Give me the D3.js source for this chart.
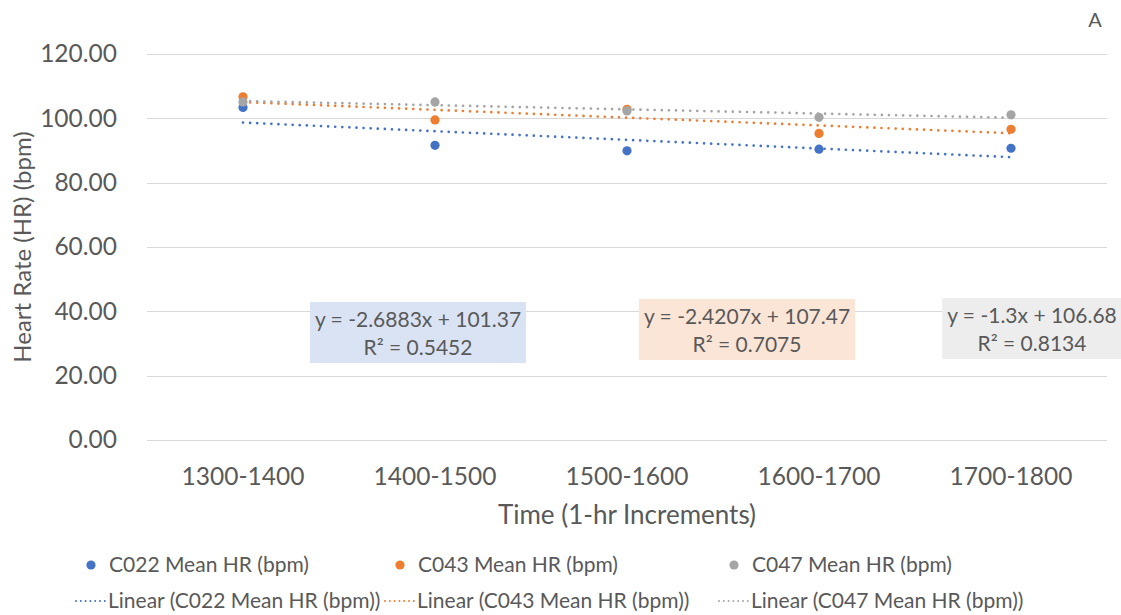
<!DOCTYPE html>
<html>
<head>
<meta charset="utf-8">
<script src="https://cdn.jsdelivr.net/npm/d3@7"></script>
<style>
  body { margin: 0; background: #fff; }
  text { font-family: Lato, "Open Sans", sans-serif; fill: #595959; }
</style>
</head>
<body>
<div id="chart"></div>
<script>
// data
var categories = ["1300-1400", "1400-1500", "1500-1600", "1600-1700", "1700-1800"];
var seriesNames = ["C022 Mean HR (bpm)", "C043 Mean HR (bpm)", "C047 Mean HR (bpm)"];
var c022 = [103.4, 91.6, 89.9, 90.4, 90.7];
var c043 = [106.7, 99.5, 102.8, 95.3, 96.6];
var c047 = [105.1, 105.1, 102.3, 100.3, 101.1];
// trendline equations shown on the chart
var slopes = [-2.6883, -2.4207, -1.3];
var intercepts = [101.37, 107.47, 106.68];
var rSquared = ["0.5452", "0.7075", "0.8134"];
var yTicks = [0, 20, 40, 60, 80, 100, 120];

var colors = ["#4472C4", "#ED7D31", "#A5A5A5"];
var boxFills = ["#DAE3F3", "#FBE5D6", "#EDEDED"];

var W = 1121, H = 615;
var margin = {top: 54, right: 14, bottom: 175, left: 147},
    width = W - margin.left - margin.right,
    height = H - margin.top - margin.bottom;

var svg = d3.select("#chart")
  .append("svg")
    .attr("width", W)
    .attr("height", H);

var g = svg.append("g")
    .attr("transform", "translate(" + margin.left + "," + margin.top + ")");

// scales
var x = d3.scaleBand()
  .domain(categories)
  .range([0, width]);

var xIdx = d3.scaleLinear()
  .domain([1, categories.length])
  .range([x(categories[0]) + x.bandwidth() / 2, x(categories[categories.length - 1]) + x.bandwidth() / 2]);

var y = d3.scaleLinear()
  .domain([0, 120])
  .range([height, 0]);

// gridlines
g.append("g")
  .selectAll("line")
  .data(yTicks)
  .enter()
  .append("line")
    .attr("x1", 0)
    .attr("x2", width)
    .attr("y1", function(d) { return Math.round(y(d)) + 0.5; })
    .attr("y2", function(d) { return Math.round(y(d)) + 0.5; })
    .style("stroke", "#D9D9D9")
    .style("stroke-width", 1);

// Y axis
var yAxis = g.append("g")
  .call(d3.axisLeft(y).tickValues(yTicks).tickFormat(d3.format(".2f")).tickSize(0).tickPadding(30));
yAxis.select(".domain").remove();
yAxis.selectAll("text")
  .style("font-size", "24.5px")
  .style("fill", "#595959")
  .style("font-family", "Lato, sans-serif");

// X axis
var xAxis = g.append("g")
  .attr("transform", "translate(0," + height + ")")
  .call(d3.axisBottom(x).tickSize(0).tickPadding(28));
xAxis.select(".domain").remove();
xAxis.selectAll("text")
  .style("font-size", "24.5px")
  .style("fill", "#595959")
  .style("font-family", "Lato, sans-serif");

// axis titles
svg.append("text")
  .attr("text-anchor", "middle")
  .attr("x", margin.left + width / 2)
  .attr("y", 524)
  .style("font-size", "26px")
  .text("Time (1-hr Increments)");

svg.append("text")
  .attr("text-anchor", "middle")
  .attr("transform", "translate(31," + 247 + ") rotate(-90)")
  .style("font-size", "24px")
  .text("Heart Rate (HR) (bpm)");

svg.append("text")
  .attr("text-anchor", "middle")
  .attr("x", 1095)
  .attr("y", 27)
  .style("font-size", "20px")
  .text("A");

var allSeries = [c022, c043, c047];

// trendlines
allSeries.forEach(function(vals, s) {
  var line = d3.line()
    .x(function(d) { return xIdx(d); })
    .y(function(d) { return y(slopes[s] * d + intercepts[s]); });
  g.append("path")
    .datum([1, categories.length])
    .attr("d", line)
    .style("fill", "none")
    .style("stroke", colors[s])
    .style("stroke-width", 2.7)
    .style("stroke-linecap", "round")
    .style("stroke-dasharray", "0 7.1");
});

// points
allSeries.forEach(function(vals, s) {
  g.append("g")
    .selectAll("circle")
    .data(vals)
    .enter()
    .append("circle")
      .attr("cx", function(d, i) { return x(categories[i]) + x.bandwidth() / 2; })
      .attr("cy", function(d) { return y(d); })
      .attr("r", 4.6)
      .style("fill", colors[s]);
});

// equation labels
var labelPos = [{cx: 418, top: 302}, {cx: 747, top: 299}, {cx: 1032, top: 298}];
labelPos.forEach(function(p, s) {
  var lbl = svg.append("g");
  var rect = lbl.append("rect").style("fill", boxFills[s]);
  var eq = "y = " + slopes[s] + "x + " + intercepts[s];
  var t = lbl.append("text")
    .attr("text-anchor", "middle")
    .style("font-size", "21px");
  t.append("tspan").attr("x", p.cx).attr("y", p.top + 25).text(eq);
  t.append("tspan").attr("x", p.cx).attr("y", p.top + 53).text("R² = " + rSquared[s]);
  var bb = t.node().getBBox();
  rect.attr("x", bb.x - 5)
    .attr("y", p.top)
    .attr("width", bb.width + 10)
    .attr("height", 61);
});

// legend
var legX = [91, 400, 734];
var legend = svg.append("g");
seriesNames.forEach(function(name, s) {
  legend.append("circle")
    .attr("cx", legX[s])
    .attr("cy", 565)
    .attr("r", 4.6)
    .style("fill", colors[s]);
  legend.append("text")
    .attr("x", legX[s] + 18)
    .attr("y", 572)
    .style("font-size", "21px")
    .text(name);

  legend.append("line")
    .attr("x1", legX[s] - 15)
    .attr("x2", legX[s] + 14)
    .attr("y1", 601)
    .attr("y2", 601)
    .style("stroke", colors[s])
    .style("stroke-width", 2)
    .style("stroke-linecap", "round")
    .style("stroke-dasharray", "0 4.8");
  legend.append("text")
    .attr("x", legX[s] + 17)
    .attr("y", 608)
    .style("font-size", "21px")
    .text("Linear (" + name + ")");
});
</script>
</body>
</html>
